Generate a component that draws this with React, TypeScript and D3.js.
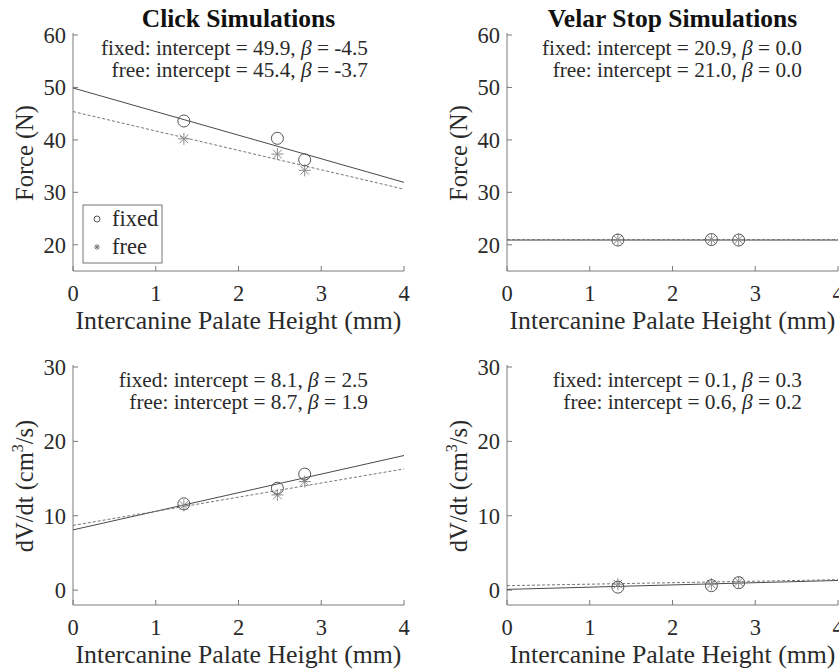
import React from "react";
import * as d3 from "d3";

// ---------- data ----------
const heights = [1.34, 2.47, 2.8];
const xTicks = [0, 1, 2, 3, 4];

const clickForceFixed = [43.6, 40.3, 36.2];
const clickForceFree = [40.2, 37.3, 34.2];
const velarForceFixed = [20.9, 21.0, 20.9];
const velarForceFree = [21.0, 21.0, 21.0];
const clickFlowFixed = [11.6, 13.7, 15.6];
const clickFlowFree = [11.4, 12.8, 14.6];
const velarFlowFixed = [0.4, 0.6, 1.0];
const velarFlowFree = [0.8, 0.8, 1.1];

// fits: [intercept, slope]
const clickForceFitFixed = [49.9, -4.5];
const clickForceFitFree = [45.4, -3.7];
const velarForceFitFixed = [20.9, 0.0];
const velarForceFitFree = [21.0, 0.0];
const clickFlowFitFixed = [8.1, 2.5];
const clickFlowFitFree = [8.7, 1.9];
const velarFlowFitFixed = [0.1, 0.3];
const velarFlowFitFree = [0.6, 0.2];

const forceTicks = [20, 30, 40, 50, 60];
const flowTicks = [0, 10, 20, 30];
const titles = ["Click Simulations", "Velar Stop Simulations"];
const xLabel = "Intercanine Palate Height (mm)";

const FONT = "'Liberation Serif', 'Times New Roman', serif";

type PanelProps = {
  left: number;
  right: number;
  top: number;
  bottom: number;
  yDomain: [number, number];
  yTicks: number[];
  fixedVals: number[];
  freeVals: number[];
  fitFixed: number[];
  fitFree: number[];
  title?: string;
  yLabel: "force" | "flow";
  legend?: boolean;
};

function fmt(v: number) {
  return v.toFixed(1);
}

function Star({ x, y, r, color }: { x: number; y: number; r: number; color: string }) {
  const d = r * 0.72;
  return (
    <g stroke={color} strokeWidth={1}>
      <line x1={x - r} y1={y} x2={x + r} y2={y} />
      <line x1={x} y1={y - r} x2={x} y2={y + r} />
      <line x1={x - d} y1={y - d} x2={x + d} y2={y + d} />
      <line x1={x - d} y1={y + d} x2={x + d} y2={y - d} />
    </g>
  );
}

function Panel(p: PanelProps) {
  const xs = d3.scaleLinear().domain([0, 4]).range([p.left, p.right]);
  const ys = d3.scaleLinear().domain(p.yDomain).range([p.bottom, p.top]);
  const axisColor = "#7a7a7a";
  const tickLen = 5;
  const fitLine = (fit: number[]) =>
    d3
      .line<number>()
      .x((x) => xs(x))
      .y((x) => ys(fit[0] + fit[1] * x))([0, 4]) || "";
  const cx = (p.left + p.right) / 2;
  const cy = (p.top + p.bottom) / 2;
  const annRight = p.left + 295;
  const annTop = p.top;
  return (
    <g fontFamily={FONT}>
      {/* axes */}
      <line x1={p.left} y1={p.bottom} x2={p.right} y2={p.bottom} stroke={axisColor} />
      <line x1={p.left} y1={p.bottom} x2={p.left} y2={p.top - 2} stroke={axisColor} />
      {xTicks.map((t) => (
        <g key={"xt" + t}>
          <line x1={xs(t)} x2={xs(t)} y1={p.bottom} y2={p.bottom - tickLen} stroke={axisColor} />
          <text x={xs(t)} y={p.bottom + 30} textAnchor="middle" fontSize={22.5} fill="#2a2a2a">
            {t}
          </text>
        </g>
      ))}
      {p.yTicks.map((t) => (
        <g key={"yt" + t}>
          <line x1={p.left} x2={p.left + tickLen} y1={ys(t)} y2={ys(t)} stroke={axisColor} />
          <text x={p.left - 7} y={ys(t) + 8} textAnchor="end" fontSize={22.5} fill="#2a2a2a">
            {t}
          </text>
        </g>
      ))}
      {/* labels */}
      <text x={cx} y={p.bottom + 58} textAnchor="middle" fontSize={25.8} fill="#2a2a2a">
        {xLabel}
      </text>
      <g transform={`translate(${p.left - 40},${cy}) rotate(-90)`}>
        {p.yLabel === "force" ? (
          <text x={0} y={0} textAnchor="middle" fontSize={24.5} fill="#2a2a2a">
            Force (N)
          </text>
        ) : (
          <text x={0} y={0} textAnchor="middle" fontSize={24.5} fill="#2a2a2a">
            dV/dt (cm
            <tspan dy={-10} fontSize={16}>
              3
            </tspan>
            <tspan dy={10}>/s)</tspan>
          </text>
        )}
      </g>
      {p.title && (
        <text x={cx} y={27} textAnchor="middle" fontSize={25.5} fontWeight="bold" fill="#111">
          {p.title}
        </text>
      )}
      {/* annotations */}
      <text x={annRight} y={annTop + 20} textAnchor="end" fontSize={21.3} fill="#2a2a2a">
        fixed: intercept = {fmt(p.fitFixed[0])},{" "}
        <tspan fontStyle="italic">β</tspan> = {fmt(p.fitFixed[1])}
      </text>
      <text x={annRight} y={annTop + 42} textAnchor="end" fontSize={21.3} fill="#2a2a2a">
        free: intercept = {fmt(p.fitFree[0])},{" "}
        <tspan fontStyle="italic">β</tspan> = {fmt(p.fitFree[1])}
      </text>
      {/* fit lines */}
      <path d={fitLine(p.fitFixed)} stroke="#4a4a4a" strokeWidth={1} fill="none" />
      <path d={fitLine(p.fitFree)} stroke="#777" strokeWidth={1} strokeDasharray="3,2" fill="none" />
      {/* points */}
      {heights.map((h, i) => (
        <Star key={"s" + i} x={xs(h)} y={ys(p.freeVals[i])} r={6} color="#8a8a8a" />
      ))}
      {heights.map((h, i) => (
        <circle key={"c" + i} cx={xs(h)} cy={ys(p.fixedVals[i])} r={6} fill="none" stroke="#555" strokeWidth={1} />
      ))}
      {p.legend && (
        <g>
          <rect x={p.left + 10} y={p.bottom - 66} width={79} height={58} fill="#fff" stroke="#777" strokeWidth={1} />
          <circle cx={p.left + 24} cy={p.bottom - 52} r={3} fill="none" stroke="#555" />
          <text x={p.left + 39} y={p.bottom - 45} fontSize={22.5} fill="#2a2a2a">
            fixed
          </text>
          <Star x={p.left + 24} y={p.bottom - 24} r={3} color="#777" />
          <text x={p.left + 39} y={p.bottom - 17} fontSize={22.5} fill="#2a2a2a">
            free
          </text>
        </g>
      )}
    </g>
  );
}

export default function App() {
  return (
    <svg
      width={839}
      height={669}
      style={{ position: "absolute", left: 0, top: 0, background: "#fff" }}
    >
      <rect width={839} height={669} fill="#fff" />
      <Panel
        left={73}
        right={404}
        top={35}
        bottom={271}
        yDomain={[15, 60]}
        yTicks={forceTicks}
        fixedVals={clickForceFixed}
        freeVals={clickForceFree}
        fitFixed={clickForceFitFixed}
        fitFree={clickForceFitFree}
        title={titles[0]}
        yLabel="force"
        legend
      />
      <Panel
        left={507}
        right={838}
        top={35}
        bottom={271}
        yDomain={[15, 60]}
        yTicks={forceTicks}
        fixedVals={velarForceFixed}
        freeVals={velarForceFree}
        fitFixed={velarForceFitFixed}
        fitFree={velarForceFitFree}
        title={titles[1]}
        yLabel="force"
      />
      <Panel
        left={73}
        right={404}
        top={367}
        bottom={605}
        yDomain={[-2, 30]}
        yTicks={flowTicks}
        fixedVals={clickFlowFixed}
        freeVals={clickFlowFree}
        fitFixed={clickFlowFitFixed}
        fitFree={clickFlowFitFree}
        yLabel="flow"
      />
      <Panel
        left={507}
        right={838}
        top={367}
        bottom={605}
        yDomain={[-2, 30]}
        yTicks={flowTicks}
        fixedVals={velarFlowFixed}
        freeVals={velarFlowFree}
        fitFixed={velarFlowFitFixed}
        fitFree={velarFlowFitFree}
        yLabel="flow"
      />
    </svg>
  );
}
